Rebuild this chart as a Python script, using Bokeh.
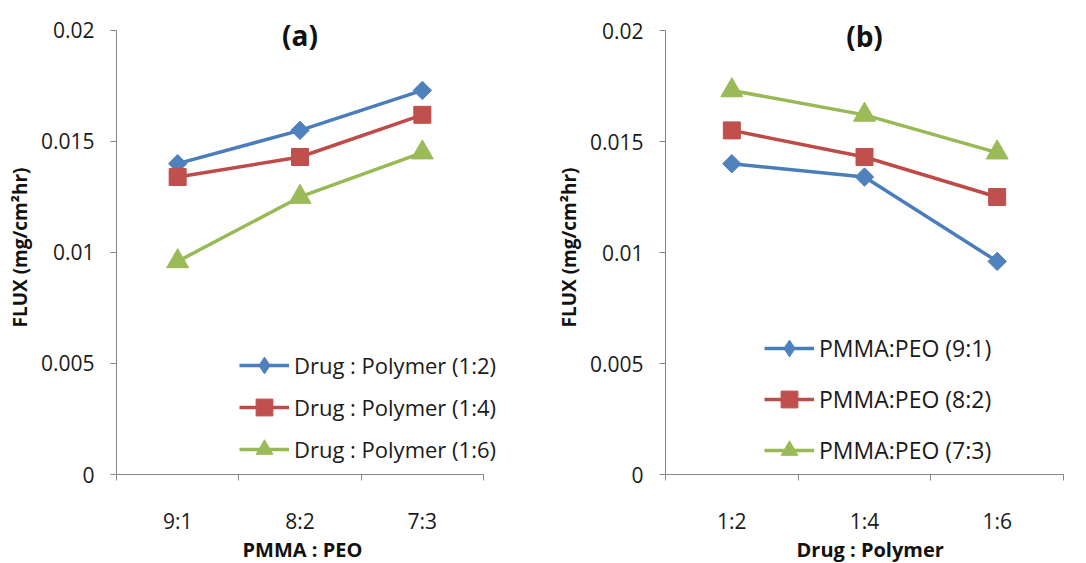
import numpy as np
from bokeh.plotting import figure
from bokeh.layouts import row
from bokeh.models import (Range1d, FixedTicker, NumeralTickFormatter, Legend,
                          LegendItem, Label, Title)
from bokeh.embed import file_html
from bokeh.resources import INLINE

# Categories
pmma_peo = ["9:1", "8:2", "7:3"]
drug_polymer = ["1:2", "1:4", "1:6"]

# Flux (mg/cm2 hr) for each drug:polymer ratio, over PMMA:PEO 9:1, 8:2, 7:3
flux_dp_1_2 = [0.0140, 0.0155, 0.0173]
flux_dp_1_4 = [0.0134, 0.0143, 0.0162]
flux_dp_1_6 = [0.0096, 0.0125, 0.0145]

y_ticks = [0, 0.005, 0.01, 0.015, 0.02]

series_a_labels = ["Drug : Polymer (1:2)", "Drug : Polymer (1:4)", "Drug : Polymer (1:6)"]
series_b_labels = ["PMMA:PEO (9:1)", "PMMA:PEO (8:2)", "PMMA:PEO (7:3)"]

LINE_COLORS = ["#4A7EBB", "#BE4B48", "#98B954"]
FILL_COLORS = ["#4F81BD", "#C0504D", "#9BBB59"]
# (marker in plot, size, angle, marker in legend)
MARKERS = [("square", 13, np.pi / 4, "diamond"),
           ("square", 17, 0.0, "square"),
           ("triangle", 22, 0.0, "triangle")]

FONT = "Open Sans"
AXIS_GREY = "#868686"

HEIGHT = 563
FRAME_TOP = 20      # frame starts a little above the 0.02 line to leave room for the title
AXIS_TOP_PX = 30    # pixel row of the top tick


def make_panel(title, categories, series, labels, x_title, x_title_offset, width,
               left, axis_len, extra_right, bottom, legend_loc, legend_spacing,
               legend_font):
    n = len(categories)
    frame_h = HEIGHT - FRAME_TOP - bottom
    axis_h = (HEIGHT - bottom) - AXIS_TOP_PX
    y_top = y_ticks[-1] * frame_h / axis_h
    # frame may run past the end of the x axis so the legend text has room
    x_end = n * (axis_len + extra_right) / axis_len
    right = width - left - axis_len - extra_right
    p = figure(width=width, height=HEIGHT, output_backend="svg", toolbar_location=None,
               x_range=Range1d(0, x_end), y_range=Range1d(y_ticks[0], y_top),
               min_border_left=left, min_border_right=right,
               min_border_top=FRAME_TOP, min_border_bottom=bottom)
    p.outline_line_color = None
    p.xgrid.visible = False
    p.ygrid.visible = False
    p.background_fill_color = "white"
    p.border_fill_color = "white"

    xs = [i + 0.5 for i in range(n)]
    items = []
    for vals, lab, lc, fc, (mk, sz, ang, lmk) in zip(series, labels, LINE_COLORS,
                                                    FILL_COLORS, MARKERS):
        lr = p.line(xs, vals, line_color=lc, line_width=3.5)
        # marker used for the legend entry (sits beneath the plotted marker)
        lgr = p.scatter(xs, vals, marker=lmk, size=sz * 0.9, fill_color=fc, line_color=fc)
        p.scatter(xs, vals, marker=mk, size=sz, angle=ang,
                  fill_color=fc, line_color=fc)
        items.append(LegendItem(label=lab, renderers=[lr, lgr]))

    leg = Legend(items=items, location=legend_loc, padding=0, margin=0,
                 glyph_width=50, glyph_height=42, label_height=24,
                 spacing=legend_spacing, label_standoff=5,
                 label_text_font=FONT, label_text_font_size=legend_font,
                 label_text_color="#1a1a1a",
                 background_fill_alpha=0, border_line_color=None)
    p.add_layout(leg)

    # x axis: labels at category centres, tick marks between categories
    xa = p.xaxis[0]
    xa.bounds = (0, n)
    xa.ticker = FixedTicker(ticks=xs, minor_ticks=list(range(n + 1)))
    xa.major_label_overrides = {x: c for x, c in zip(xs, categories)}
    xa.major_tick_line_color = None
    xa.major_tick_out = 0
    xa.major_tick_in = 0
    xa.minor_tick_out = 6
    xa.minor_tick_in = 0
    xa.minor_tick_line_color = AXIS_GREY
    xa.axis_line_color = AXIS_GREY
    xa.major_label_standoff = 26
    xa.major_label_text_font = FONT
    xa.major_label_text_font_size = "21px"
    xa.major_label_text_color = "#1a1a1a"

    # x-axis title under the category axis
    p.add_layout(Title(text=x_title, align="left", offset=x_title_offset,
                       standoff=-8, text_font=FONT, text_font_size="20px",
                       text_font_style="bold", text_color="#111111"), "below")

    ya = p.yaxis[0]
    ya.ticker = FixedTicker(ticks=y_ticks, minor_ticks=[])
    ya.bounds = (y_ticks[0], y_ticks[-1])
    ya.formatter = NumeralTickFormatter(format="0.[000]")
    ya.major_tick_out = 6
    ya.major_tick_in = 0
    ya.major_tick_line_color = AXIS_GREY
    ya.axis_line_color = AXIS_GREY
    ya.major_label_standoff = 16
    ya.major_label_text_font = FONT
    ya.major_label_text_font_size = "21px"
    ya.major_label_text_color = "#1a1a1a"
    ya.axis_label = "FLUX (mg/cm²hr)"
    ya.axis_label_standoff = 5
    ya.axis_label_text_font = FONT
    ya.axis_label_text_font_size = "19px"
    ya.axis_label_text_font_style = "bold"
    ya.axis_label_text_color = "#111111"

    p.add_layout(Label(x=n / 2, y=y_ticks[-1], text=title, text_align="center",
                       text_baseline="middle", y_offset=-5, text_font=FONT,
                       text_font_size="28px", text_font_style="bold",
                       text_color="#111111"))
    return p


pa = make_panel("(a)", pmma_peo, [flux_dp_1_2, flux_dp_1_4, flux_dp_1_6],
                series_a_labels, "PMMA : PEO", 126, 543, 116, 367, 30, 87,
                (123, 4), 0, "22px")

series_b = [[s[i] for s in (flux_dp_1_2, flux_dp_1_4, flux_dp_1_6)]
            for i in range(len(pmma_peo))]
pb = make_panel("(b)", drug_polymer, series_b, series_b_labels, "Drug : Polymer", 131,
                543, 122, 398, 0, 89, (99, 3), 9, "23px")

layout = row(pa, pb)
open("out.html", "w").write(file_html(layout, INLINE))
